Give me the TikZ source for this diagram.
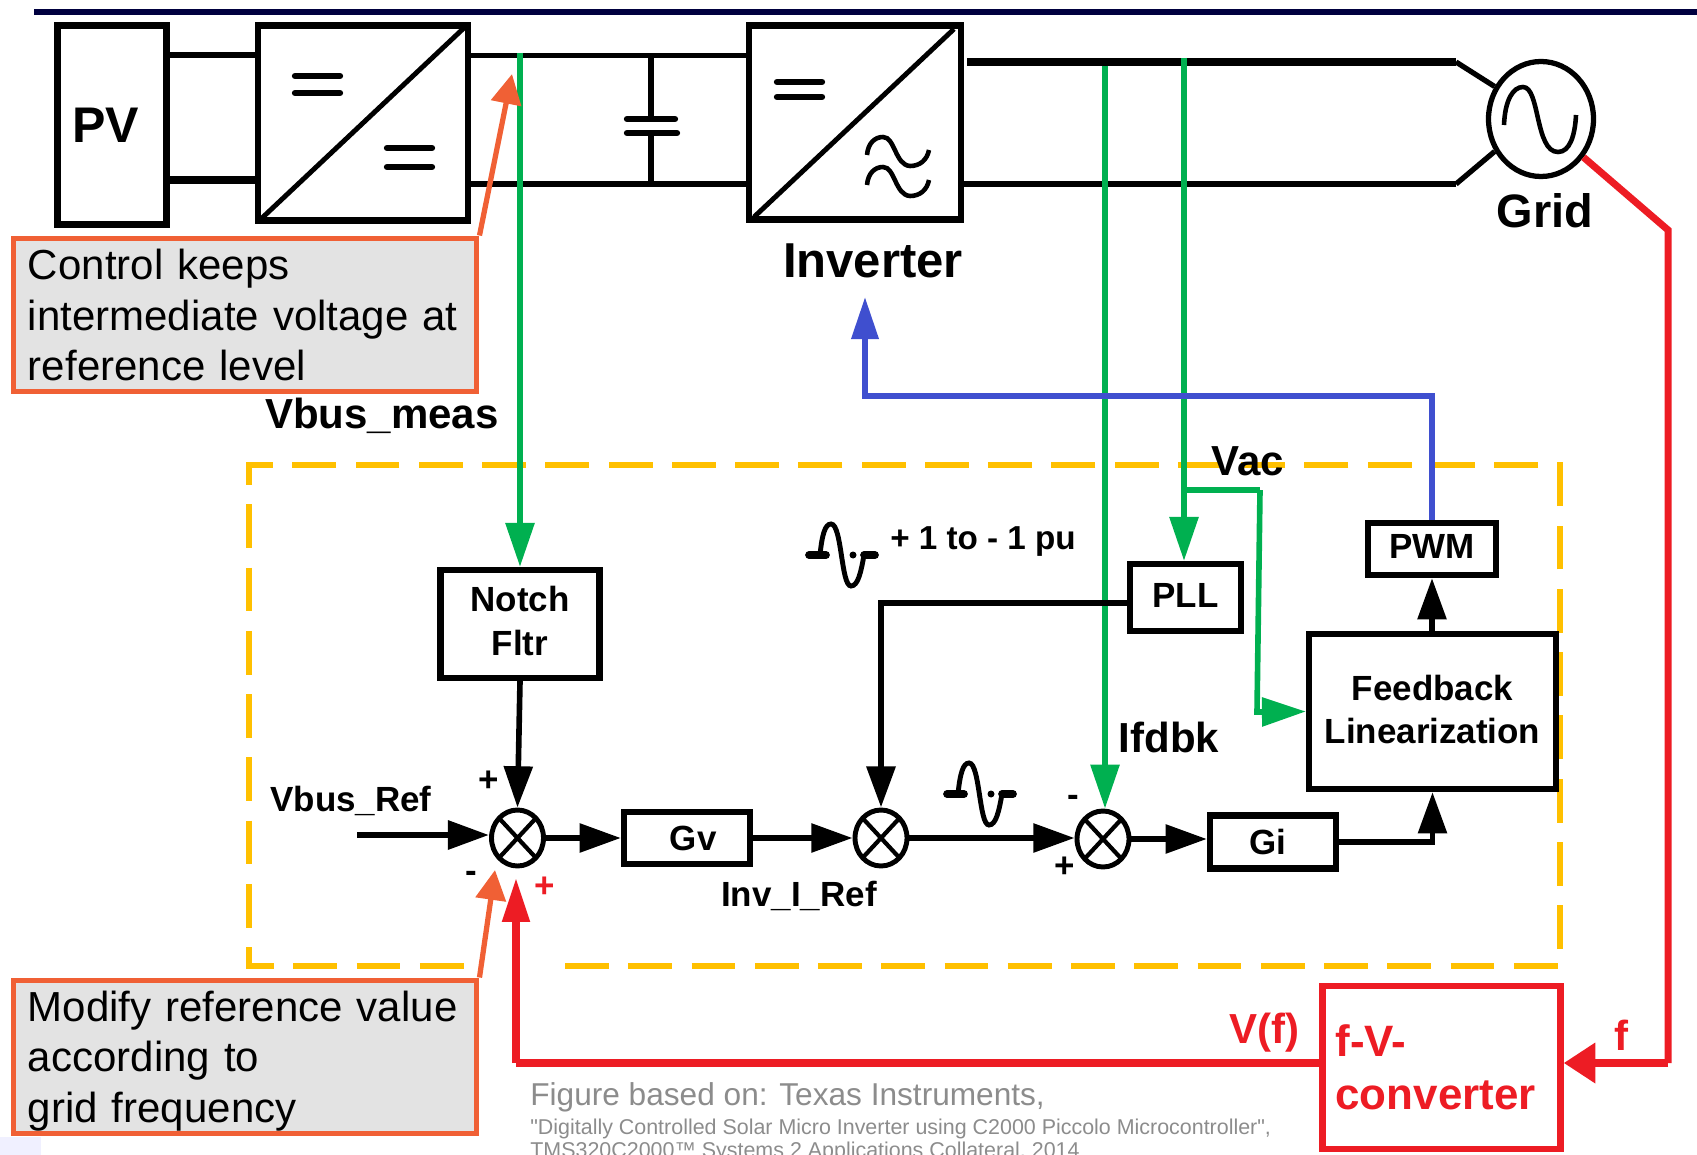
\documentclass[tikz,border=0pt]{standalone}
\usepackage{fontspec}
\setmainfont{Liberation Sans}
\usetikzlibrary{arrows.meta, shapes.geometric}

\definecolor{navy}{HTML}{00003F}
\definecolor{ctrlgreen}{HTML}{00B050}
\definecolor{ctrlblue}{HTML}{3F4FCF}
\definecolor{ctrlred}{HTML}{ED1C24}
\definecolor{ctrlorange}{HTML}{F06035}
\definecolor{ctrlgold}{HTML}{FFC000}
\definecolor{notegrey}{HTML}{E3E3E3}
\definecolor{citegrey}{HTML}{8C8C8C}

\tikzset{
	block/.style = {draw, line width = 3.6pt, fill = white, inner sep = 0, align = center, font = \bfseries\fontsize{19.9}{24.5}\selectfont},
	sumnode/.style = {ellipse, draw, line width = 2.8pt, fill = white, inner sep = 0, minimum width = 52*0.02cm, minimum height = 56*0.02cm,
		path picture = {\draw [line width = 2.4pt] (path picture bounding box.south west) -- (path picture bounding box.north east)
			(path picture bounding box.north west) -- (path picture bounding box.south east);}},
	wire/.style = {line width = 3pt},
	conn/.style = {line width = 3.2pt, -{Triangle[length = 23.5pt, width = 16pt]}},
	greenline/.style = {line width = 3.2pt, ctrlgreen},
	greenconn/.style = {greenline, -{Triangle[length = 25pt, width = 16pt]}},
	note/.style = {draw = ctrlorange, fill = notegrey, line width = 3.4pt, inner xsep = 8pt, inner ysep = 0, minimum width = 463*0.02cm,
		text width = 434*0.02cm, align = left, font = \fontsize{23.9}{29}\selectfont},
	noteconn/.style = {ctrlorange, line width = 3pt, -{Triangle[length = 17pt, width = 17pt]}},
	tag/.style = {font = \bfseries\fontsize{19.9}{24}\selectfont, inner sep = 0},
	bigtag/.style = {font = \bfseries\fontsize{23.9}{28}\selectfont, inner sep = 0},
	cite/.style = {citegrey, inner sep = 0, anchor = west}
}

\begin{document}
\begin{tikzpicture}[x = 0.02cm, y = -0.02cm]
	\useasboundingbox (0, 0) rectangle (1697, 1155);
	\clip (0, 0) rectangle (1697, 1155);

	% header bar and pale corner
	\fill [navy] (34, 9) rectangle (1697, 15);
	\fill [blue!6] (0, 1137) rectangle (41, 1155);

	% power stage
	\node [block, minimum width = 109*0.02cm, minimum height = 199*0.02cm, font = \bfseries\fontsize{28.5}{30}\selectfont] (pv) at (112, 125) {\hspace{-7pt}\raisebox{-1.5pt}{PV}};
	\node [block, minimum width = 210*0.02cm, minimum height = 195*0.02cm] (dcdc) at (362.7, 123) {};
	\node [block, minimum width = 212*0.02cm, minimum height = 194*0.02cm] (inverter) at (855, 122.5) {};
	\node [ellipse, draw, line width = 3pt, inner sep = 0, minimum width = 105*0.02cm, minimum height = 115*0.02cm] (grid) at (1541, 119) {};

	\draw [line width = 3pt] (pv.east |- 0, 55) -- (dcdc.west |- 0, 55);
	\draw [line width = 5pt] (pv.east |- 0, 180) -- (dcdc.west |- 0, 180);
	\draw [line width = 2.6pt] (dcdc.east |- 0, 55.5) -- (inverter.west |- 0, 55.5);
	\draw [line width = 3pt] (dcdc.east |- 0, 184) -- (inverter.west |- 0, 184);
	\draw [line width = 4.6pt] (967, 62) -- (1456, 62);
	\draw [wire] (1456, 62) -- (grid.145);
	\draw [line width = 3.4pt] (inverter.east |- 0, 184) -- (1456, 184);
	\draw [wire] (1456, 184) -- (grid.-145);

	% capacitor
	\coordinate (capA) at (651, 119);
	\coordinate (capB) at (651, 133);
	\draw [line width = 3.4pt] (651, 55.5) -- (capA);
	\draw [line width = 3.4pt] (capB) -- (651, 184);
	\draw [line width = 3.6pt, line cap = round] (627, 119) -- (675, 119);
	\draw [line width = 3.6pt, line cap = round] (627, 133) -- (677, 133);

	% converter symbols
	\begin{scope}[line width = 2.8pt]
		\draw (465, 27) -- (262, 218);
		\draw (954, 29) -- (754, 217);
	\end{scope}
	\begin{scope}[line width = 3.6pt, line cap = round]
		\draw (295, 76) -- (340, 76);
		\draw (295, 93) -- (340, 93);
		\draw (387, 148) -- (432, 148);
		\draw (387, 167) -- (432, 167);
		\draw (777, 82) -- (822, 82);
		\draw (777, 97) -- (822, 97);
	\end{scope}
	\foreach \dy in {0, 30} {
		\draw [line width = 2.6pt, yshift = -\dy*0.02cm] (867, 155) .. controls (868, 143) and (875, 137) .. (883, 137)
			.. controls (895, 137) and (895, 165) .. (910, 166) .. controls (920, 166) and (927, 160) .. (929, 150);
	}
	\draw [line width = 2.6pt] (1504, 125) .. controls (1505, 100) and (1513, 87) .. (1523, 87)
		.. controls (1540, 87) and (1535, 152) .. (1558, 152) .. controls (1570, 152) and (1575, 135) .. (1576, 115);

	% control frame
	\draw [ctrlgold, line width = 3pt, dash pattern = on 25pt off 11pt]
		(565, 966) -- (1560, 966) -- (1560, 465) -- (249, 465) -- (249, 966) -- (476, 966);

	% control blocks
	\node [block, minimum width = 159*0.02cm, minimum height = 108*0.02cm, text depth = 3.6pt] (notch) at (520, 624) {Notch\\Fltr};
	\node [sumnode] (sumV) at (517.5, 838) {};
	\node [block, minimum width = 126*0.02cm, minimum height = 52*0.02cm] (gv) at (687, 838) {\hspace{7pt}Gv};
	\node [sumnode] (sumI) at (881, 838) {};
	\node [sumnode] (sumF) at (1103, 839) {};
	\node [block, minimum width = 126*0.02cm, minimum height = 53*0.02cm] (gi) at (1273, 842) {\hspace{-6pt}Gi};
	\node [block, minimum width = 247*0.02cm, minimum height = 155*0.02cm, text depth = 2.5pt] (fblin) at (1432.5, 711.5) {Feedback\\Linearization};
	\node [block, minimum width = 128*0.02cm, minimum height = 52*0.02cm, text depth = 2.5pt] (pwm) at (1432, 549) {PWM};
	\node [block, minimum width = 111*0.02cm, minimum height = 67*0.02cm, text depth = 2.5pt] (pll) at (1185.5, 597.5) {PLL};

	% black connectors
	\coordinate (vbusStart) at (357, 835);
	\draw [conn, line width = 3.6pt] (vbusStart) -- (sumV.west |- 0, 835);
	\draw [conn] (notch.south) -- (sumV.north);
	\draw [conn] (sumV.east) -- (gv.west);
	\draw [conn] (gv.east) -- (sumI.west);
	\draw [conn] (sumI.east) -- (sumI.east -| sumF.west);
	\draw [conn] (sumF.east) -- (sumF.east -| gi.west);
	\draw [conn] (gi.east) -| (fblin.south);
	\draw [conn] (fblin.north -| pwm.south) -- (pwm.south);

	% measurement lines
	\draw [greenconn] (520, 53) -- (notch.north);
	\draw [greenconn] (1105, 66) -- (sumF.north -| 1105, 0);
	\draw [greenconn] (1184, 58) -- (pll.north -| 1184, 0);
	\coordinate (vacTap) at (1184, 490);
	\coordinate (vacBend) at (1260, 490);
	\coordinate (vacDown) at (1257, 712);
	\draw [greenline] (vacTap) -- (vacBend);
	\draw [greenconn] (vacBend) -- (vacDown) -- (fblin.west);

	% carrier from the PLL
	\draw [conn, line width = 3.6pt] (pll.west |- 0, 603) -| (sumI.north);

	% gate signal
	\coordinate (gateTip) at (865, 297);
	\draw [ctrlblue, line width = 3.4pt, -{Triangle[length = 24pt, width = 15pt]}] (pwm.north) |- (865, 396) -- (gateTip);

	% reference waveform marks
	\foreach \dx/\dy in {0/0, 138/239} {
		\begin{scope}[shift = {(\dx, \dy)}]
			\draw [line width = 4.4pt, line cap = round] (809, 555) -- (826, 555);
			\draw [line width = 4.4pt, line cap = round] (864, 555) -- (875, 555);
			\draw [line width = 2.8pt] (820, 555) .. controls (822, 535) and (825, 524) .. (831, 524)
				.. controls (842, 524) and (841, 586) .. (851, 586) .. controls (858, 586) and (861, 572) .. (864, 555);
			\fill (853, 555) circle (3.5);
		\end{scope}
	}

	% labels
	\node [block, draw = none, fill = none, font = \bfseries\fontsize{27.9}{30}\selectfont] (invLabel) at (873, 261) {Inverter};
	\node [block, draw = none, fill = none, font = \bfseries\fontsize{26.7}{30}\selectfont] (gridLabel) at (1545, 211) {Grid};
	\node [bigtag] (vbusMeas) at (382, 416) {Vbus\_meas};
	\node [bigtag] (vacLabel) at (1248, 461) {Vac};
	\node [bigtag] (ifdbk) at (1169, 737) {Ifdbk};
	\node [tag] (vbusRef) at (351, 801) {Vbus\_Ref};
	\node [tag] (invRef) at (799, 896) {Inv\_I\_Ref};
	\node [tag, font = \bfseries\fontsize{18.9}{22}\selectfont] (puLabel) at (983, 542) {+ 1 to - 1 pu};
	\node [tag] (plusV) at (489, 781) {+};
	\node [tag] (minusV) at (471, 877) {-};
	\node [tag, ctrlred] (plusRed) at (545, 887) {+};
	\node [tag] (minusF) at (1073, 801) {-};
	\node [tag] (plusF) at (1065, 867) {+};

	% frequency path
	\node [block, draw = ctrlred, text = ctrlred, minimum width = 238*0.02cm, minimum height = 163*0.02cm, text width = 212*0.02cm, align = left,
		font = \bfseries\fontsize{25}{30}\selectfont] (conv) at (1441.5, 1067.5) {f-V-\\converter};
	\coordinate (gridBend) at (1668, 230);
	\coordinate (fCorner) at (1668, 1063);
	\coordinate (vfCorner) at (516, 1063);
	\coordinate (vfTip) at (516, 878);
	\draw [ctrlred, line width = 4pt] (grid.-42) -- (gridBend) -- (fCorner);
	\draw [ctrlred, line width = 5pt, -{Triangle[length = 18pt, width = 22pt]}] (fCorner) -- (conv.east |- 0, 1063);
	\draw [ctrlred, line width = 4pt] (conv.west |- 0, 1063) -- (vfCorner);
	\draw [ctrlred, line width = 4pt, -{Triangle[length = 25pt, width = 15pt]}] (vfCorner) -- (vfTip);
	\node [bigtag, ctrlred] (vfLabel) at (1264, 1033) {V(f)};
	\node [bigtag, ctrlred] (fLabel) at (1621, 1035) {f};

	% notes
	\node [note, minimum height = 153*0.02cm] (noteVbus) at (245, 315) {Control keeps\\intermediate voltage at\\reference level};
	\node [note, minimum height = 153*0.02cm] (noteRef) at (245, 1057) {\rule{0pt}{22pt}Modify reference value\\according to\\grid frequency};
	\coordinate (noteVbusTip) at (512, 74);
	\coordinate (noteRefTip) at (495, 870);
	\draw [noteconn] (noteVbus.north east) -- (noteVbusTip);
	\draw [noteconn] (noteRef.north east) -- (noteRefTip);

	% source line
	\node [cite, font = \fontsize{18}{20}\selectfont] (citeA) at (530, 1097) {Figure based on: Texas Instruments,};
	\node [cite, font = \fontsize{12.2}{14}\selectfont] (citeB) at (530, 1129) {\textquotedbl Digitally Controlled Solar Micro Inverter using C2000 Piccolo Microcontroller\textquotedbl,};
	\node [cite, font = \fontsize{12.2}{14}\selectfont] (citeC) at (530, 1152) {TMS320C2000™ Systems 2 Applications Collateral, 2014};
\end{tikzpicture}
\end{document}
